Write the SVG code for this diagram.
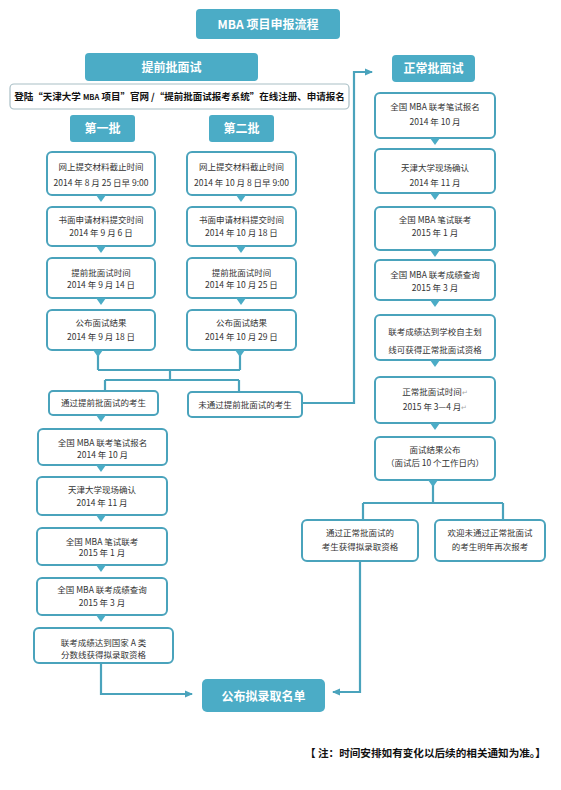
<svg xmlns="http://www.w3.org/2000/svg" width="561" height="790" viewBox="0 0 561 790">
<defs>
<style>
.hdr{fill:#4BACC6;}
.box{fill:#ffffff;stroke:#4aa3bc;stroke-width:2;}
.t{font-family:"Noto Sans CJK SC","Liberation Sans",sans-serif;font-size:8.5px;fill:#333333;text-anchor:middle;}
.h{font-family:"Noto Sans CJK SC","Liberation Sans",sans-serif;font-size:12px;font-weight:bold;fill:#ffffff;text-anchor:middle;}
.tri{fill:#4BACC6;}
.ln{fill:none;stroke:#4aa3bc;stroke-width:2.2;}
.rm{fill:#aaaaaa;font-size:7px;}
</style>
<marker id="arr" markerWidth="8" markerHeight="8" refX="7" refY="4" orient="auto" markerUnits="userSpaceOnUse">
<path d="M0,0.5 L8,4 L0,7.5 Z" fill="#4aa3bc"/>
</marker>
</defs>
<rect width="561" height="790" fill="#ffffff"/>

<g id="connectors">
<path class="ln" d="M98,350 V370 M240,350 V370 M98,370 H240 M170,370 V380 M105,380 H239 M105,380 V391 M239,380 V392"/>
<path class="ln" d="M302,403 H354 V72 H372" marker-end="url(#arr)"/>
<path class="ln" d="M433,482 V503 M363,503 H503 M363,503 V520 M503,503 V520"/>
<path class="ln" d="M360,561 V692 H333" marker-end="url(#arr)"/>
<path class="ln" d="M101,663 V694 H192" marker-end="url(#arr)"/>
</g>

<g id="title"><rect class="hdr" x="196" y="9" width="144" height="30" rx="4"/><text class="h" x="268" y="28.5">MBA 项目申报流程</text></g>

<g id="early"><rect class="hdr" x="85" y="53" width="173" height="28" rx="4"/><text class="h" x="171.5" y="71.5">提前批面试</text></g>
<g id="login"><rect x="10" y="84" width="339" height="25" rx="4" fill="#ffffff" stroke="#a9bfc6" stroke-width="1.2"/><text x="179.5" y="100" text-anchor="middle" font-family="Noto Sans CJK SC,sans-serif" font-size="9.5" font-weight="bold" fill="#111111">登陆“天津大学 <tspan font-size="7.5">MBA</tspan> 项目”官网 /“提前批面试报考系统”在线注册、申请报名</text></g>
<g id="batch1"><rect class="hdr" x="70" y="115" width="65" height="27" rx="3"/><text class="h" x="102.5" y="133">第一批</text></g>
<g id="batch2"><rect class="hdr" x="209" y="115" width="65" height="27" rx="3"/><text class="h" x="241.5" y="133">第二批</text></g>

<g id="b1r1"><rect class="box" x="47" y="152" width="108" height="43" rx="5"/><text class="t" x="101" y="170">网上提交材料截止时间</text><text class="t" x="101" y="186">2014 年 8 月 25 日早 9:00</text><polygon class="tri" points="96,195 106,195 101,202"/></g>
<g id="b1r2"><rect class="box" x="47" y="207" width="108" height="39" rx="5"/><text class="t" x="101" y="223">书面申请材料提交时间</text><text class="t" x="101" y="236">2014 年 9 月 6 日</text><polygon class="tri" points="96,246 106,246 101,253"/></g>
<g id="b1r3"><rect class="box" x="47" y="258" width="108" height="40" rx="5"/><text class="t" x="101" y="276">提前批面试时间</text><text class="t" x="101" y="288">2014 年 9 月 14 日</text><polygon class="tri" points="96,298 106,298 101,305"/></g>
<g id="b1r4"><rect class="box" x="47" y="310" width="108" height="40" rx="5"/><text class="t" x="101" y="326">公布面试结果</text><text class="t" x="101" y="340">2014 年 9 月 18 日</text><polygon class="tri" points="93,350 103,350 98,357"/></g>

<g id="b2r1"><rect class="box" x="187" y="152" width="109" height="43" rx="5"/><text class="t" x="241.5" y="170">网上提交材料截止时间</text><text class="t" x="241.5" y="186">2014 年 10 月 8 日早 9:00</text><polygon class="tri" points="236,195 246,195 241,202"/></g>
<g id="b2r2"><rect class="box" x="187" y="207" width="109" height="39" rx="5"/><text class="t" x="241.5" y="223">书面申请材料提交时间</text><text class="t" x="241.5" y="236">2014 年 10 月 18 日</text><polygon class="tri" points="236,246 246,246 241,253"/></g>
<g id="b2r3"><rect class="box" x="187" y="258" width="109" height="40" rx="5"/><text class="t" x="241.5" y="276">提前批面试时间</text><text class="t" x="241.5" y="288">2014 年 10 月 25 日</text><polygon class="tri" points="236,298 246,298 241,305"/></g>
<g id="b2r4"><rect class="box" x="187" y="310" width="109" height="40" rx="5"/><text class="t" x="241.5" y="326">公布面试结果</text><text class="t" x="241.5" y="340">2014 年 10 月 29 日</text><polygon class="tri" points="235,350 245,350 240,357"/></g>

<g id="pass-early"><rect class="box" x="49" y="391" width="109" height="24" rx="4"/><text class="t" x="103.5" y="406">通过提前批面试的考生</text><polygon class="tri" points="96,415 106,415 101,422"/></g>
<g id="fail-early"><rect class="box" x="188" y="392" width="114" height="25" rx="4"/><text class="t" x="245" y="407.5">未通过提前批面试的考生</text></g>

<g id="l1"><rect class="box" x="38" y="429" width="129" height="36" rx="5"/><text class="t" x="102.5" y="446">全国 MBA 联考笔试报名</text><text class="t" x="102.5" y="458">2014 年 10 月</text><polygon class="tri" points="96,465 106,465 101,472"/></g>
<g id="l2"><rect class="box" x="37" y="477" width="130" height="38" rx="5"/><text class="t" x="102" y="493">天津大学现场确认</text><text class="t" x="102" y="506">2014 年 11 月</text><polygon class="tri" points="96,515 106,515 101,522"/></g>
<g id="l3"><rect class="box" x="37" y="528" width="130" height="37" rx="5"/><text class="t" x="102" y="545">全国 MBA 笔试联考</text><text class="t" x="102" y="556">2015 年 1 月</text><polygon class="tri" points="96,565 106,565 101,572"/></g>
<g id="l4"><rect class="box" x="37" y="578" width="130" height="37" rx="5"/><text class="t" x="102" y="593">全国 MBA 联考成绩查询</text><text class="t" x="102" y="606">2015 年 3 月</text><polygon class="tri" points="96,615 106,615 101,622"/></g>
<g id="l5"><rect class="box" x="34" y="628" width="139" height="35" rx="5"/><text class="t" x="103.5" y="646">联考成绩达到国家 A 类</text><text class="t" x="103.5" y="657.5">分数线获得拟录取资格</text></g>

<g id="normal"><rect class="hdr" x="392" y="55" width="83" height="27" rx="4"/><text class="h" x="433.5" y="73">正常批面试</text></g>
<g id="r1"><rect class="box" x="375" y="93" width="120" height="45" rx="5"/><text class="t" x="435" y="110">全国 MBA 联考笔试报名</text><text class="t" x="435" y="125">2014 年 10 月</text><polygon class="tri" points="430,138 440,138 435,145"/></g>
<g id="r2"><rect class="box" x="375" y="149" width="120" height="44" rx="5"/><text class="t" x="435" y="171">天津大学现场确认</text><text class="t" x="435" y="186">2014 年 11 月</text><polygon class="tri" points="430,193 440,193 435,200"/></g>
<g id="r3"><rect class="box" x="375" y="207" width="120" height="43" rx="5"/><text class="t" x="435" y="223">全国 MBA 笔试联考</text><text class="t" x="435" y="236">2015 年 1 月</text><polygon class="tri" points="430,250 440,250 435,257"/></g>
<g id="r4"><rect class="box" x="375" y="260" width="120" height="40" rx="5"/><text class="t" x="435" y="278">全国 MBA 联考成绩查询</text><text class="t" x="435" y="291">2015 年 3 月</text><polygon class="tri" points="430,300 440,300 435,307"/></g>
<g id="r5"><rect class="box" x="375" y="315" width="120" height="45" rx="5"/><text class="t" x="435" y="335">联考成绩达到学校自主划</text><text class="t" x="435" y="353">线可获得正常批面试资格</text><polygon class="tri" points="430,360 440,360 435,367"/></g>
<g id="r6"><rect class="box" x="375" y="377" width="120" height="46" rx="5"/><text class="t" x="435" y="395">正常批面试时间<tspan class="rm">↵</tspan></text><text class="t" x="435" y="410">2015 年 3—4 月<tspan class="rm">↵</tspan></text><polygon class="tri" points="430,423 440,423 435,430"/></g>
<g id="r7"><rect class="box" x="375" y="437" width="120" height="43" rx="5"/><text class="t" x="435" y="453">面试结果公布</text><text class="t" x="435" y="466">（面试后 10 个工作日内）</text><polygon class="tri" points="428,480 438,480 433,487"/></g>

<g id="pass-normal"><rect class="box" x="302" y="520" width="116" height="41" rx="5"/><text class="t" x="360" y="536">通过正常批面试的</text><text class="t" x="360" y="550">考生获得拟录取资格</text></g>
<g id="fail-normal"><rect class="box" x="435" y="520" width="110" height="41" rx="5"/><text class="t" x="490" y="536">欢迎未通过正常批面试</text><text class="t" x="490" y="550">的考生明年再次报考</text></g>

<g id="final"><rect class="hdr" x="202" y="679" width="123" height="33" rx="5"/><text class="h" x="263.5" y="700.5" font-size="13">公布拟录取名单</text></g>

<text x="305" y="757" font-family="Noto Sans CJK SC,sans-serif" font-size="10.6" font-weight="bold" fill="#111111">【  注：时间安排如有变化以后续的相关通知为准。】</text>
</svg>
